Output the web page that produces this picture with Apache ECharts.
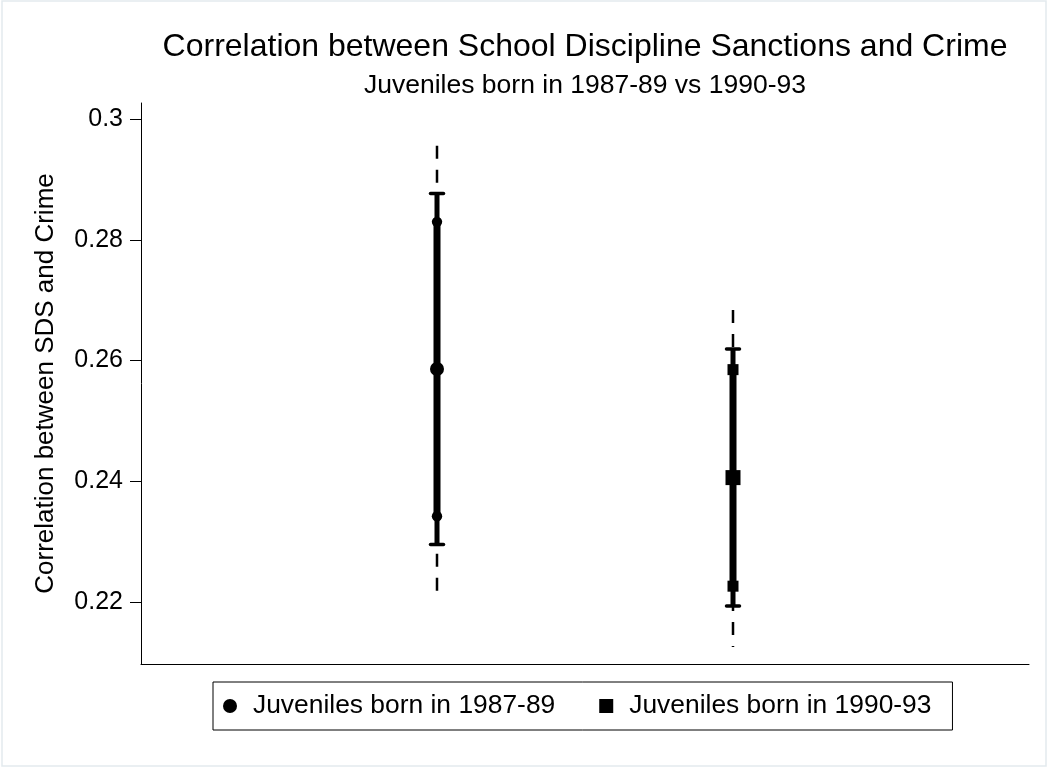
<!DOCTYPE html>
<html>
<head>
<meta charset="utf-8">
<script src="https://cdn.jsdelivr.net/npm/echarts@6/dist/echarts.min.js"></script>
<style>
  html, body { margin: 0; padding: 0; background: #ffffff; }
  #chart { width: 1056px; height: 767px; }
</style>
</head>
<body>
<div id="chart"></div>
<script>
// ---- Data ----
const categories = ['Juveniles born in 1987-89', 'Juveniles born in 1990-93'];
const xPositions = [1, 2];
const estimate = [0.2586, 0.2406];
const ci90Low  = [0.2342, 0.2226];
const ci90High = [0.2830, 0.2585];
const ci95Low  = [0.2295, 0.2193];
const ci95High = [0.2877, 0.2619];
const ci99Low  = [0.2205, 0.2125];
const ci99High = [0.2956, 0.2684];
const yTickValues = [0.22, 0.24, 0.26, 0.28, 0.3];
const markerShapes = ['circle', 'rect'];

const FONT = '"Liberation Sans", Arial, Helvetica, sans-serif';

function makeRender(shape) {
  return function (params, api) {
    const x = api.value(0);
    const pt = v => api.coord([x, v]);
    const cx = pt(api.value(1))[0];
    const yLo99 = pt(api.value(1))[1], yHi99 = pt(api.value(2))[1];
    const yLo95 = pt(api.value(3))[1], yHi95 = pt(api.value(4))[1];
    const yLo90 = pt(api.value(5))[1], yHi90 = pt(api.value(6))[1];
    const black = '#000';
    const children = [
      { type: 'line', shape: { x1: cx, y1: yHi99, x2: cx, y2: yLo99 },
        style: { stroke: black, lineWidth: 2.5, lineDash: [13, 11] } },
      { type: 'line', shape: { x1: cx, y1: yHi95, x2: cx, y2: yLo95 },
        style: { stroke: black, lineWidth: 5 } },
      { type: 'line', shape: { x1: cx - 6.5, y1: yHi95, x2: cx + 6.5, y2: yHi95 },
        style: { stroke: black, lineWidth: 3.5, lineCap: 'round' } },
      { type: 'line', shape: { x1: cx - 6.5, y1: yLo95, x2: cx + 6.5, y2: yLo95 },
        style: { stroke: black, lineWidth: 3.5, lineCap: 'round' } },
      { type: 'line', shape: { x1: cx, y1: yHi90, x2: cx, y2: yLo90 },
        style: { stroke: black, lineWidth: 7 } }
    ];
    [yHi90, yLo90].forEach(function (yy) {
      if (shape === 'circle') {
        children.push({ type: 'circle', shape: { cx: cx, cy: yy, r: 5.2 }, style: { fill: black } });
      } else {
        children.push({ type: 'rect', shape: { x: cx - 5.5, y: yy - 5.5, width: 11, height: 11 }, style: { fill: black } });
      }
    });
    return { type: 'group', children: children };
  };
}

const series = [];
categories.forEach(function (name, i) {
  series.push({
    name: name,
    type: 'custom',
    renderItem: makeRender(markerShapes[i]),
    data: [[xPositions[i], ci99Low[i], ci99High[i], ci95Low[i], ci95High[i], ci90Low[i], ci90High[i]]],
    itemStyle: { color: '#000' },
    z: 2,
    silent: true
  });
  series.push({
    name: name,
    type: 'scatter',
    symbol: markerShapes[i],
    symbolSize: markerShapes[i] === 'circle' ? 14 : 15,
    itemStyle: { color: '#000', opacity: 1 },
    data: [[xPositions[i], estimate[i]]],
    z: 3,
    silent: true
  });
});

const chart = echarts.init(document.getElementById('chart'), null, { renderer: 'canvas' });
chart.setOption({
  animation: false,
  backgroundColor: '#ffffff',
  textStyle: { fontFamily: FONT },
  title: [
    { text: 'Correlation between School Discipline Sanctions and Crime',
      left: 585, top: 31, textAlign: 'center', padding: 0,
      textStyle: { fontSize: 32, fontWeight: 'normal', color: '#000', fontFamily: FONT, lineHeight: 32 } },
    { text: 'Juveniles born in 1987-89 vs 1990-93',
      left: 585, top: 72, textAlign: 'center', padding: 0,
      textStyle: { fontSize: 26.5, fontWeight: 'normal', color: '#000', fontFamily: FONT, lineHeight: 27 } }
  ],
  graphic: [
    { type: 'rect', shape: { x: 2, y: 1, width: 1044, height: 765 },
      style: { fill: 'none', stroke: '#e3eaee', lineWidth: 1.5 }, silent: true, z: -10 }
  ],
  legend: {
    data: [{ name: categories[0], icon: 'circle' }, { name: categories[1], icon: 'rect' }],
    left: 213, top: 682,
    orient: 'horizontal',
    itemWidth: 14, itemHeight: 14, itemGap: 44,
    padding: [11, 21, 11, 10],
    borderColor: '#000', borderWidth: 1,
    backgroundColor: '#fff',
    selectedMode: false,
    textStyle: { fontSize: 26.4, color: '#000', fontFamily: FONT, lineHeight: 26, padding: [0, 0, 0, 11] }
  },
  grid: { left: 141, right: 27, top: 103, bottom: 103, containLabel: false },
  xAxis: {
    type: 'value', min: 0, max: 3,
    axisLine: { show: true, onZero: false, lineStyle: { color: '#000', width: 1 } },
    axisTick: { show: false }, axisLabel: { show: false }, splitLine: { show: false }
  },
  yAxis: {
    type: 'value', min: 0.2097, max: 0.3027,
    name: 'Correlation between SDS and Crime',
    nameLocation: 'middle', nameGap: 82,
    nameTextStyle: { fontSize: 26, color: '#000', fontFamily: FONT },
    axisLine: { show: true, lineStyle: { color: '#000', width: 1 } },
    axisTick: { show: true, length: 11, customValues: yTickValues, lineStyle: { color: '#000', width: 1 } },
    axisLabel: { show: true, margin: 18, fontSize: 25, color: '#000', fontFamily: FONT,
      customValues: yTickValues,
      formatter: function (v) { return String(+Number(v).toFixed(2)); } },
    splitLine: { show: false }
  },
  series: series
});
</script>
</body>
</html>
